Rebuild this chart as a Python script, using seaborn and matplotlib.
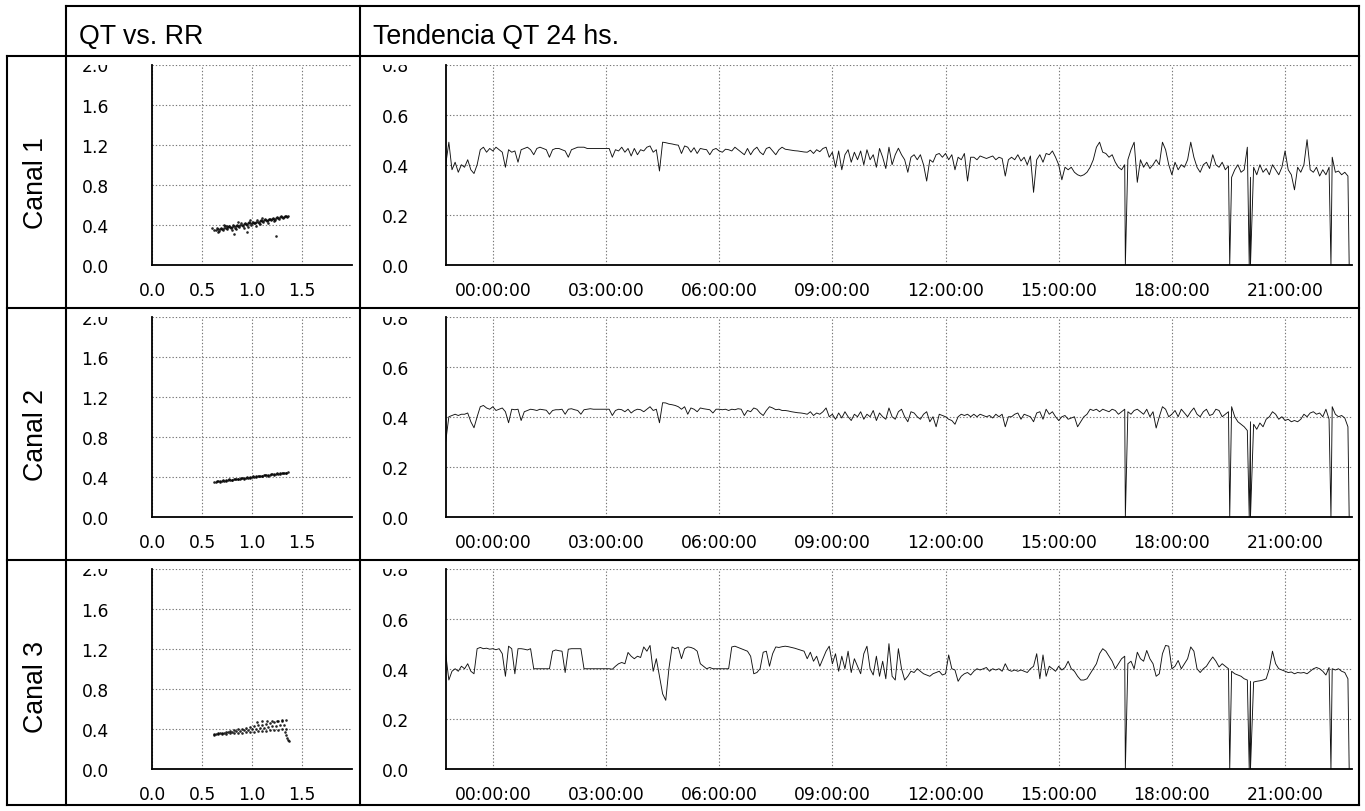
import numpy as np
import pandas as pd
import matplotlib
matplotlib.use("Agg")
import matplotlib.pyplot as plt
import matplotlib.dates as mdates
from matplotlib.lines import Line2D
from matplotlib.patches import Rectangle
import seaborn as sns

# ---------------- data ----------------
channels = ["Canal 1", "Canal 2", "Canal 3"]
col_titles = ["QT vs. RR", "Tendencia QT 24 hs."]
start_time = "2000-01-01 22:45"
step = "5min"
gap_times = ["2000-01-02 16:46", "2000-01-02 19:32", "2000-01-02 20:03",
             "2000-01-02 20:05", "2000-01-02 22:13", "2000-01-02 22:42"]
time_ticks_hours = [0, 3, 6, 9, 12, 15, 18, 21]
scatter_xticks = [0.0, 0.5, 1.0, 1.5]
scatter_yticks = [0.0, 0.4, 0.8, 1.2, 1.6, 2.0]
trend_yticks = [0.0, 0.2, 0.4, 0.6, 0.8]

qt_c1 = [
    0.40, 0.49, 0.38, 0.41, 0.37, 0.40, 0.39, 0.42, 0.38, 0.365, 0.40, 0.46,
    0.47, 0.45, 0.465, 0.455, 0.47, 0.46, 0.45, 0.39, 0.46, 0.45, 0.455, 0.41,
    0.46, 0.465, 0.47, 0.46, 0.44, 0.465, 0.47, 0.465, 0.46, 0.43, 0.46, 0.465,
    0.465, 0.46, 0.455, 0.43, 0.46, 0.465, 0.47, 0.47, 0.47, 0.465, 0.465, 0.465,
    0.465, 0.465, 0.465, 0.465, 0.465, 0.43, 0.46, 0.455, 0.47, 0.45, 0.465, 0.435,
    0.465, 0.44, 0.46, 0.455, 0.47, 0.475, 0.45, 0.46, 0.375, 0.49, 0.488, 0.485,
    0.483, 0.48, 0.478, 0.445, 0.475, 0.47, 0.45, 0.468, 0.445, 0.465, 0.462, 0.46,
    0.44, 0.46, 0.465, 0.455, 0.45, 0.462, 0.46, 0.455, 0.47, 0.46, 0.45, 0.44,
    0.465, 0.44, 0.46, 0.47, 0.45, 0.44, 0.465, 0.47, 0.455, 0.44, 0.46, 0.47,
    0.462, 0.46, 0.458, 0.456, 0.455, 0.453, 0.451, 0.45, 0.458, 0.445, 0.46, 0.452,
    0.465, 0.47, 0.43, 0.45, 0.39, 0.455, 0.38, 0.44, 0.46, 0.41, 0.45, 0.42,
    0.455, 0.40, 0.46, 0.42, 0.44, 0.39, 0.465, 0.43, 0.385, 0.47, 0.40, 0.44,
    0.466, 0.44, 0.42, 0.37, 0.43, 0.44, 0.42, 0.44, 0.40, 0.335, 0.42, 0.41,
    0.44, 0.445, 0.43, 0.445, 0.42, 0.44, 0.38, 0.43, 0.42, 0.445, 0.335, 0.43,
    0.43, 0.42, 0.435, 0.43, 0.425, 0.43, 0.435, 0.42, 0.43, 0.425, 0.355, 0.42,
    0.43, 0.42, 0.44, 0.415, 0.43, 0.40, 0.435, 0.29, 0.42, 0.44, 0.41, 0.445,
    0.44, 0.455, 0.43, 0.40, 0.34, 0.39, 0.38, 0.39, 0.37, 0.36, 0.355, 0.36,
    0.37, 0.39, 0.42, 0.47, 0.49, 0.45, 0.445, 0.43, 0.44, 0.41, 0.39, 0.38,
    0.40, 0.42, 0.46, 0.49, 0.33, 0.42, 0.39, 0.41, 0.385, 0.40, 0.42, 0.40,
    0.49, 0.46, 0.40, 0.36, 0.41, 0.38, 0.40, 0.39, 0.42, 0.49, 0.43, 0.39,
    0.37, 0.40, 0.41, 0.385, 0.44, 0.40, 0.39, 0.41, 0.38, 0.395, 0.35, 0.38,
    0.40, 0.37, 0.38, 0.47, 0.35, 0.39, 0.36, 0.40, 0.37, 0.385, 0.36, 0.40,
    0.38, 0.36, 0.39, 0.455, 0.38, 0.36, 0.30, 0.39, 0.37, 0.40, 0.50, 0.38,
    0.37, 0.39, 0.355, 0.38, 0.36, 0.39, 0.43, 0.37, 0.375, 0.36, 0.37, 0.355,
]

qt_c2 = [
    0.30, 0.40, 0.405, 0.41, 0.405, 0.41, 0.41, 0.415, 0.38, 0.356, 0.40, 0.44,
    0.445, 0.435, 0.43, 0.44, 0.425, 0.43, 0.435, 0.42, 0.376, 0.43, 0.428, 0.43,
    0.385, 0.42, 0.425, 0.43, 0.428, 0.425, 0.43, 0.428, 0.426, 0.41, 0.425, 0.428,
    0.428, 0.43, 0.41, 0.43, 0.432, 0.428, 0.425, 0.41, 0.428, 0.43, 0.432, 0.43,
    0.43, 0.43, 0.43, 0.43, 0.43, 0.405, 0.425, 0.43, 0.428, 0.42, 0.43, 0.415,
    0.425, 0.43, 0.428, 0.42, 0.43, 0.44, 0.425, 0.43, 0.376, 0.456, 0.455, 0.45,
    0.448, 0.445, 0.44, 0.43, 0.44, 0.41, 0.435, 0.43, 0.42, 0.435, 0.432, 0.43,
    0.428, 0.415, 0.43, 0.43, 0.428, 0.43, 0.425, 0.43, 0.428, 0.432, 0.43, 0.405,
    0.425, 0.42, 0.435, 0.43, 0.415, 0.405, 0.425, 0.44, 0.435, 0.428, 0.43, 0.425,
    0.425, 0.423, 0.42, 0.418, 0.416, 0.415, 0.413, 0.41, 0.42, 0.405, 0.415, 0.41,
    0.42, 0.435, 0.40, 0.41, 0.39, 0.415, 0.395, 0.42, 0.40, 0.385, 0.41, 0.40,
    0.42, 0.39, 0.41, 0.40, 0.425, 0.385, 0.415, 0.40, 0.39, 0.435, 0.40, 0.39,
    0.42, 0.43, 0.40, 0.38, 0.42, 0.415, 0.40, 0.39, 0.41, 0.42, 0.38, 0.40,
    0.36, 0.41, 0.405, 0.40, 0.39, 0.385, 0.37, 0.40, 0.41, 0.405, 0.41, 0.40,
    0.41, 0.40, 0.41, 0.405, 0.40, 0.405, 0.395, 0.41, 0.40, 0.41, 0.36, 0.40,
    0.40, 0.41, 0.415, 0.39, 0.41, 0.405, 0.40, 0.38, 0.415, 0.42, 0.39, 0.43,
    0.41, 0.42, 0.40, 0.385, 0.40, 0.405, 0.39, 0.395, 0.40, 0.36, 0.38, 0.40,
    0.41, 0.43, 0.425, 0.43, 0.42, 0.43, 0.425, 0.42, 0.43, 0.425, 0.41, 0.42,
    0.43, 0.42, 0.41, 0.425, 0.43, 0.42, 0.41, 0.43, 0.40, 0.42, 0.355, 0.40,
    0.44, 0.43, 0.40, 0.41, 0.425, 0.40, 0.43, 0.415, 0.40, 0.42, 0.435, 0.41,
    0.40, 0.42, 0.43, 0.405, 0.41, 0.43, 0.425, 0.40, 0.41, 0.42, 0.44, 0.40,
    0.38, 0.37, 0.36, 0.345, 0.38, 0.37, 0.35, 0.375, 0.36, 0.39, 0.40, 0.42,
    0.41, 0.39, 0.40, 0.385, 0.39, 0.38, 0.385, 0.38, 0.39, 0.41, 0.40, 0.415,
    0.42, 0.41, 0.415, 0.40, 0.43, 0.39, 0.44, 0.41, 0.40, 0.405, 0.395, 0.36,
]

qt_c3 = [
    0.46, 0.355, 0.39, 0.40, 0.39, 0.41, 0.40, 0.42, 0.39, 0.38, 0.48, 0.485,
    0.48, 0.482, 0.478, 0.48, 0.476, 0.48, 0.46, 0.37, 0.49, 0.48, 0.38, 0.48,
    0.48, 0.478, 0.475, 0.48, 0.40, 0.40, 0.40, 0.40, 0.40, 0.40, 0.47, 0.475,
    0.472, 0.47, 0.385, 0.478, 0.48, 0.48, 0.48, 0.48, 0.40, 0.40, 0.40, 0.40,
    0.40, 0.40, 0.40, 0.40, 0.40, 0.398, 0.41, 0.42, 0.425, 0.42, 0.465, 0.45,
    0.44, 0.45, 0.445, 0.487, 0.47, 0.493, 0.39, 0.44, 0.37, 0.30, 0.274, 0.40,
    0.487, 0.48, 0.485, 0.44, 0.48, 0.487, 0.485, 0.48, 0.47, 0.42, 0.41, 0.40,
    0.405, 0.40, 0.40, 0.40, 0.40, 0.40, 0.40, 0.487, 0.49, 0.485, 0.48, 0.475,
    0.47, 0.45, 0.38, 0.385, 0.40, 0.466, 0.47, 0.41, 0.46, 0.487, 0.485, 0.488,
    0.49, 0.488, 0.485, 0.482, 0.478, 0.474, 0.47, 0.44, 0.466, 0.43, 0.45, 0.41,
    0.44, 0.47, 0.49, 0.42, 0.46, 0.39, 0.45, 0.40, 0.47, 0.385, 0.44, 0.41,
    0.38, 0.46, 0.49, 0.40, 0.375, 0.45, 0.37, 0.43, 0.36, 0.50, 0.37, 0.355,
    0.48, 0.40, 0.355, 0.37, 0.39, 0.385, 0.40, 0.39, 0.38, 0.375, 0.37, 0.38,
    0.385, 0.39, 0.375, 0.38, 0.455, 0.40, 0.395, 0.35, 0.37, 0.38, 0.385, 0.375,
    0.39, 0.40, 0.395, 0.40, 0.405, 0.39, 0.40, 0.395, 0.40, 0.39, 0.42, 0.395,
    0.39, 0.395, 0.39, 0.395, 0.39, 0.385, 0.40, 0.41, 0.46, 0.36, 0.455, 0.37,
    0.41, 0.40, 0.39, 0.41, 0.395, 0.405, 0.43, 0.40, 0.39, 0.37, 0.355, 0.355,
    0.36, 0.38, 0.40, 0.42, 0.46, 0.48, 0.47, 0.45, 0.43, 0.40, 0.42, 0.44,
    0.45, 0.42, 0.43, 0.40, 0.466, 0.44, 0.43, 0.473, 0.44, 0.42, 0.37, 0.38,
    0.46, 0.493, 0.49, 0.40, 0.41, 0.433, 0.40, 0.42, 0.44, 0.487, 0.47, 0.40,
    0.385, 0.40, 0.41, 0.43, 0.447, 0.43, 0.407, 0.42, 0.41, 0.40, 0.39, 0.38,
    0.375, 0.37, 0.36, 0.355, 0.35, 0.347, 0.35, 0.352, 0.355, 0.36, 0.40, 0.47,
    0.42, 0.40, 0.395, 0.39, 0.385, 0.387, 0.38, 0.385, 0.383, 0.385, 0.38, 0.39,
    0.40, 0.405, 0.40, 0.39, 0.375, 0.405, 0.40, 0.395, 0.40, 0.39, 0.385, 0.36,
]

rr_s1 = [0.62, 0.64, 0.66, 0.68, 0.70, 0.72, 0.74, 0.76, 0.78, 0.80, 0.82, 0.84, 0.86,
         0.88, 0.90, 0.92, 0.94, 0.96, 0.98, 1.00, 1.02, 1.04, 1.06, 1.08, 1.10, 1.12,
         1.14, 1.16, 1.18, 1.20, 1.22, 1.24, 1.26, 1.28, 1.30, 1.32, 1.34, 1.36,
         0.65, 0.69, 0.73, 0.77, 0.81, 0.85, 0.89, 0.93, 0.97, 1.01, 1.05, 1.09, 1.13,
         1.17, 1.21, 1.25, 1.29, 1.33,
         0.67, 0.71, 0.75, 0.79, 0.83, 0.87, 0.91, 0.95, 0.99, 1.03, 1.07, 1.11, 1.15,
         1.19, 1.23, 1.27, 1.31, 1.35,
         0.60, 0.66, 0.72, 0.80, 0.86, 0.92, 0.98, 1.04, 1.10, 1.16, 0.75, 0.84, 0.96,
         1.08, 1.22, 0.82, 1.24, 0.95]
qt_s1 = [0.350, 0.352, 0.357, 0.360, 0.362, 0.368, 0.370, 0.376, 0.378, 0.383, 0.385,
         0.391, 0.393, 0.399, 0.400, 0.406, 0.408, 0.414, 0.416, 0.421, 0.423, 0.429,
         0.431, 0.437, 0.438, 0.444, 0.446, 0.452, 0.454, 0.459, 0.461, 0.467, 0.469,
         0.475, 0.476, 0.482, 0.484, 0.489,
         0.370, 0.373, 0.386, 0.387, 0.402, 0.403, 0.415, 0.419, 0.430, 0.432, 0.444,
         0.447, 0.457, 0.461, 0.470, 0.476, 0.485, 0.488,
         0.343, 0.353, 0.355, 0.369, 0.372, 0.384, 0.386, 0.401, 0.403, 0.414, 0.418,
         0.431, 0.435, 0.446, 0.452, 0.463, 0.469, 0.479,
         0.37, 0.33, 0.40, 0.35, 0.43, 0.37, 0.45, 0.39, 0.47, 0.42, 0.39, 0.36, 0.38,
         0.41, 0.44, 0.31, 0.29, 0.33]

rr_s2 = [0.62, 0.64, 0.66, 0.68, 0.70, 0.72, 0.74, 0.76, 0.78, 0.80, 0.82, 0.84, 0.86,
         0.88, 0.90, 0.92, 0.94, 0.96, 0.98, 1.00, 1.02, 1.04, 1.06, 1.08, 1.10, 1.12,
         1.14, 1.16, 1.18, 1.20, 1.22, 1.24, 1.26, 1.28, 1.30, 1.32, 1.34, 1.36,
         0.65, 0.71, 0.77, 0.83, 0.89, 0.95, 1.01, 1.07, 1.13, 1.19, 1.25, 1.31,
         0.68, 0.74, 0.80, 0.86, 0.92, 0.98, 1.04, 1.10, 1.16, 1.22, 1.28, 1.34]
qt_s2 = [0.350, 0.354, 0.355, 0.359, 0.360, 0.364, 0.365, 0.369, 0.370, 0.374, 0.375,
         0.379, 0.380, 0.384, 0.386, 0.389, 0.391, 0.394, 0.396, 0.399, 0.401, 0.404,
         0.406, 0.409, 0.411, 0.415, 0.416, 0.420, 0.421, 0.425, 0.426, 0.430, 0.431,
         0.435, 0.436, 0.440, 0.442, 0.445,
         0.360, 0.368, 0.375, 0.383, 0.390, 0.398, 0.405, 0.413, 0.420, 0.428, 0.436,
         0.443,
         0.352, 0.360, 0.368, 0.375, 0.383, 0.390, 0.398, 0.405, 0.413, 0.420, 0.428,
         0.436]

rr_s3 = [0.62, 0.66, 0.70, 0.74, 0.78, 0.82, 0.86, 0.90, 0.94, 0.98, 1.02, 1.06, 1.10,
         1.14, 1.18, 1.22, 1.26, 1.30, 1.34,
         0.62, 0.66, 0.70, 0.74, 0.78, 0.82, 0.86, 0.90, 0.94, 0.98, 1.02, 1.06, 1.10,
         1.14, 1.18, 1.22, 1.26, 1.30, 1.34,
         0.64, 0.68, 0.72, 0.76, 0.80, 0.84, 0.88, 0.92, 0.96, 1.00, 1.04, 1.08, 1.12,
         1.16, 1.20, 1.24, 1.28, 1.32,
         1.05, 1.10, 1.15, 1.20, 1.25, 1.30,
         1.33, 1.34, 1.35, 1.36, 1.37]
qt_s3 = [0.348, 0.356, 0.364, 0.372, 0.380, 0.387, 0.395, 0.403, 0.411, 0.419, 0.427,
         0.435, 0.443, 0.451, 0.458, 0.466, 0.474, 0.482, 0.490,
         0.342, 0.345, 0.348, 0.352, 0.355, 0.358, 0.361, 0.364, 0.368, 0.371, 0.374,
         0.377, 0.380, 0.384, 0.387, 0.390, 0.393, 0.396, 0.400,
         0.349, 0.356, 0.362, 0.366, 0.373, 0.376, 0.383, 0.387, 0.392, 0.398, 0.402,
         0.408, 0.412, 0.420, 0.424, 0.430, 0.436, 0.443,
         0.470, 0.474, 0.478, 0.480, 0.483, 0.486,
         0.37, 0.34, 0.31, 0.29, 0.275]

trend_series = [qt_c1, qt_c2, qt_c3]
scatter_series = [(rr_s1, qt_s1), (rr_s2, qt_s2), (rr_s3, qt_s3)]

# ---------------- layout (pixel based) ----------------
W, H = 1365, 812
HEAD_FONT = ["Liberation Sans", "DejaVu Sans"]
TICK_FONT = ["DejaVu Sans"]
sns.set_theme(style="white")
plt.rcParams["font.family"] = TICK_FONT
plt.rcParams["text.color"] = "black"

fig = plt.figure(figsize=(W / 100, H / 100), dpi=100)


def rect(l, t, w, h):
    return [l / W, 1 - (t + h) / H, w / W, h / H]


def fline(x0, y0, x1, y1, lw=1.5):
    fig.add_artist(Line2D([x0 / W, x1 / W], [1 - y0 / H, 1 - y1 / H],
                          transform=fig.transFigure, color="black", lw=lw,
                          zorder=20, solid_capstyle="projecting"))


def fwhite(l, t, w, h):
    fig.add_artist(Rectangle((l / W, 1 - (t + h) / H), w / W, h / H,
                             transform=fig.transFigure, facecolor="white",
                             edgecolor="none", zorder=10))


row_h = 252
row0 = 57
ax_top_off = 8.5
ax_h = 200.5
grid_kw = dict(color="#777777", linestyle=(0, (1.2, 1.8)), linewidth=0.8)
TICK_FS = 12.3
HEAD_FS = 19.3


def style_axes(ax, pad_y):
    ax.set_facecolor("white")
    for s in ["top", "right"]:
        ax.spines[s].set_visible(False)
    for s in ["left", "bottom"]:
        ax.spines[s].set_color("black")
        ax.spines[s].set_linewidth(1.3)
    ax.grid(True, **grid_kw)
    ax.tick_params(axis="both", which="major", length=6, width=0.8,
                   color="#777777", labelsize=TICK_FS, labelcolor="black",
                   direction="out")
    ax.tick_params(axis="y", pad=pad_y)
    ax.tick_params(axis="x", pad=5.5)
    ax.set_xlabel("")
    ax.set_ylabel("")


t0 = pd.Timestamp(start_time)
for i, ch in enumerate(channels):
    top = row0 + i * row_h + ax_top_off
    # scatter QT vs RR
    axs = fig.add_axes(rect(152, top, 200, ax_h))
    rr, qt = scatter_series[i]
    sns.scatterplot(x=rr, y=qt, ax=axs, color="black", s=3.5, linewidth=0,
                    alpha=0.85, legend=False)
    axs.set_xlim(0, 2.0)
    axs.set_ylim(0, 2.0)
    axs.set_xticks(scatter_xticks)
    axs.set_yticks(scatter_yticks)
    axs.set_xticklabels([f"{v:.1f}" for v in scatter_xticks])
    axs.set_yticklabels([f"{v:.1f}" for v in scatter_yticks])
    style_axes(axs, pad_y=25)

    # trend
    axt = fig.add_axes(rect(445.7, top, 906, ax_h))
    vals = trend_series[i]
    times = pd.date_range(start_time, periods=len(vals), freq=step)
    df = pd.DataFrame({"t": times, "qt": vals})
    gaps = pd.DataFrame({"t": pd.to_datetime(gap_times), "qt": 0.0})
    df = pd.concat([df, gaps]).sort_values("t", kind="stable").reset_index(drop=True)
    sns.lineplot(data=df, x="t", y="qt", ax=axt, color="#111111", lw=0.65,
                 sort=False, estimator=None)
    axt.set_xlim(t0, t0 + pd.Timedelta(hours=24, minutes=1))
    axt.set_ylim(0, 0.8)
    axt.xaxis.set_major_locator(mdates.HourLocator(byhour=time_ticks_hours))
    axt.xaxis.set_major_formatter(mdates.DateFormatter("%H:%M:%S"))
    axt.set_yticks(trend_yticks)
    axt.set_yticklabels([f"{v:.1f}" for v in trend_yticks])
    style_axes(axt, pad_y=20.5)

    # clip top tick label at the axes top
    fwhite(70, row0 + i * row_h + 1, 80, ax_top_off - 1)
    fwhite(363, row0 + i * row_h + 1, 76, ax_top_off - 1)

    # row label
    fig.text(36 / W, 1 - (row0 + i * row_h + row_h / 2) / H, ch, rotation=90,
             ha="center", va="center", fontsize=HEAD_FS, family=HEAD_FONT,
             color="black")

# column titles
fig.text(79 / W, 1 - 44.3 / H, col_titles[0], ha="left", va="baseline",
         fontsize=HEAD_FS, family=HEAD_FONT, color="black")
fig.text(373 / W, 1 - 44.3 / H, col_titles[1], ha="left", va="baseline",
         fontsize=HEAD_FS, family=HEAD_FONT, color="black")

# table lines
bottom = 806
right = 1359
fline(66, 7, right, 7)
fline(7, 57, right, 57)
fline(7, 309, right, 309)
fline(7, 561, right, 561)
fline(7, bottom, right, bottom)
fline(7, 57, 7, bottom)
fline(66, 7, 66, bottom)
fline(360, 7, 360, bottom)
fline(right, 7, right, bottom)

fig.savefig("out.png", dpi=100, facecolor="white")
